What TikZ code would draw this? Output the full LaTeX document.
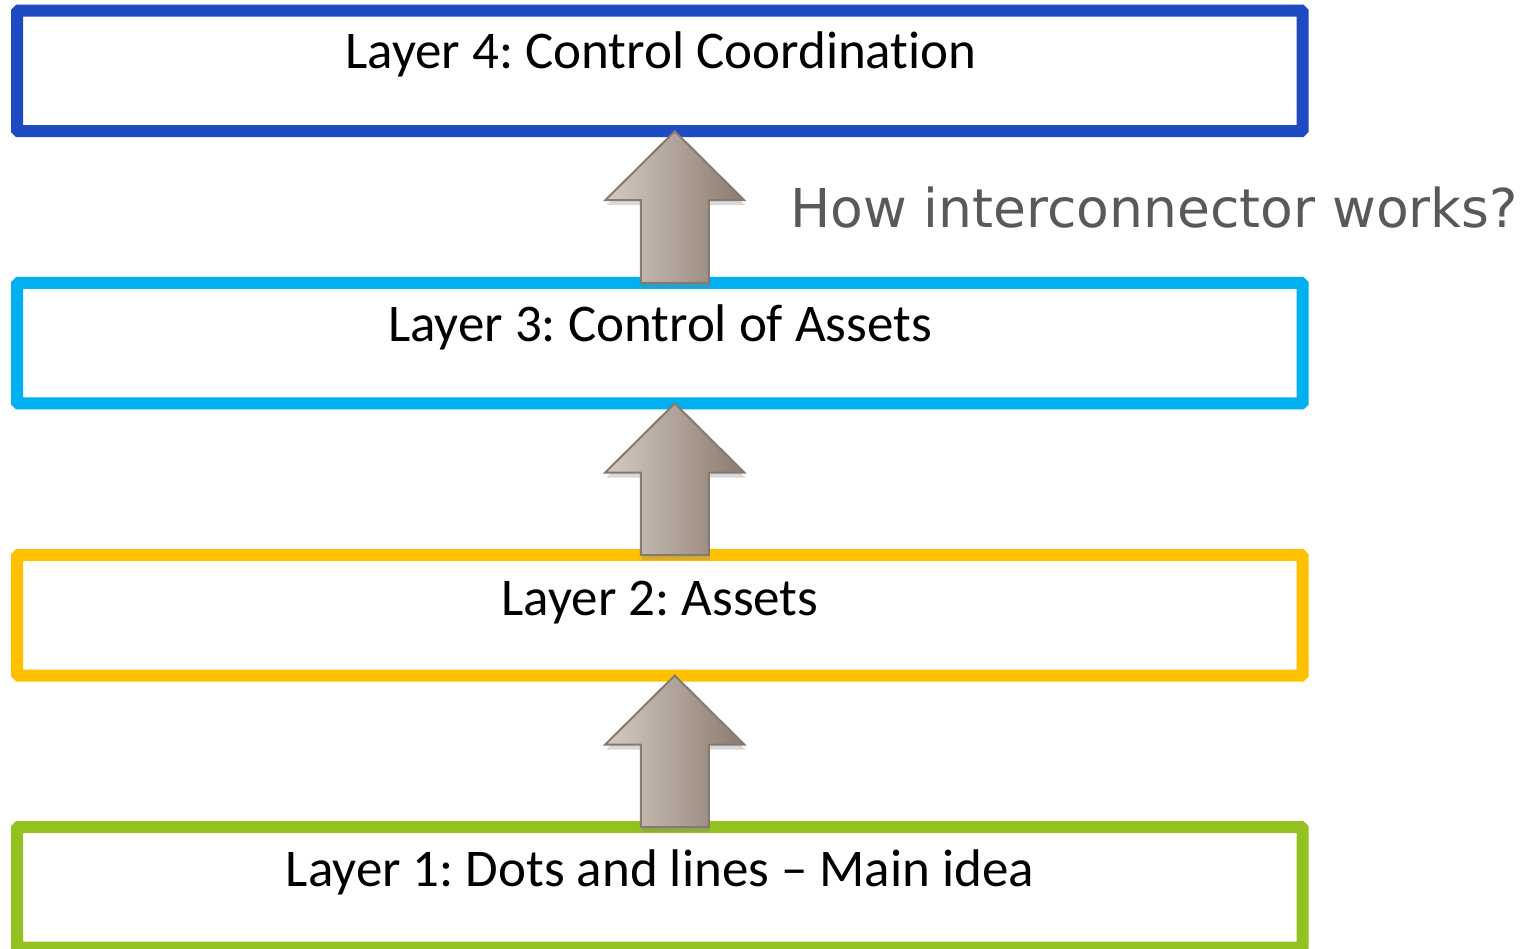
\documentclass[tikz,border=0pt]{standalone}
\usepackage{fontspec}
\setmainfont{Carlito}[Ligatures=NoCommon]
\newfontfamily\qfont{DejaVu Sans}
\usetikzlibrary{calc,shadows}
\frenchspacing
\definecolor{cBlue}{HTML}{1E4AC2}
\definecolor{cCyan}{HTML}{00B0F0}
\definecolor{cGold}{HTML}{FFC000}
\definecolor{cGreen}{HTML}{93C11F}
\definecolor{arrL}{HTML}{D6CAC2}
\definecolor{arrR}{HTML}{8A7B6F}
\definecolor{arrEdge}{HTML}{857970}
\definecolor{qGray}{HTML}{595959}
\tikzset{
  layerbox/.style={draw, line width=12pt, rounded corners=1.5pt, minimum width=1285.5pt,
    minimum height=120.5pt, inner sep=0pt, outer sep=0pt, fill=none},
  layerlabel/.style={anchor=base, inner sep=0pt, font=\fontsize{53}{60}\selectfont},
  blockarrow/.style={left color=arrL, right color=arrR, draw=arrEdge, line width=2pt,
    line join=miter,
    drop shadow={opacity=0.3, shadow xshift=1pt, shadow yshift=-5pt}},
  question/.style={anchor=base west, inner sep=0pt, text=qGray, font=\qfont\fontsize{53.5}{64}\selectfont}
}
\newcommand\layerarrow[2]{%
  \path[blockarrow]
    ($(#1.north)+(-19,0)$) -- ($(#2.south)+(-19,69)$) -- ($(#2.south)+(-54.5,69)$) --
    ($(#2.south)+(15,0)$) -- ($(#2.south)+(84.5,69)$) -- ($(#2.south)+(49,69)$) --
    ($(#1.north)+(49,0)$) -- cycle;}
\begin{document}
\begin{tikzpicture}[x=1pt,y=-1pt]
\useasboundingbox (0,0) rectangle (1534,949);
\node[layerbox, draw=cBlue]  (L4) at (659.75,71) {};
\node[layerbox, draw=cCyan]  (L3) at (659.75,343.25) {};
\node[layerbox, draw=cGold]  (L2) at (659.75,615.25) {};
\node[layerbox, draw=cGreen] (L1) at (659.75,887.25) {};
\node[layerlabel] (t4) at (661,69) {Layer 4: Control Coordination};
\node[layerlabel] (t3) at (660,342) {Layer 3: Control of Assets};
\node[layerlabel] (t2) at (660,615) {Layer 2: Assets};
\node[layerlabel] (t1) at (660,886) {Layer 1: Dots and lines – Main idea};
\layerarrow{L3}{L4}
\layerarrow{L2}{L3}
\layerarrow{L1}{L2}
\node[question] (q) at (790,228) {How interconnector works?};
\end{tikzpicture}
\end{document}
